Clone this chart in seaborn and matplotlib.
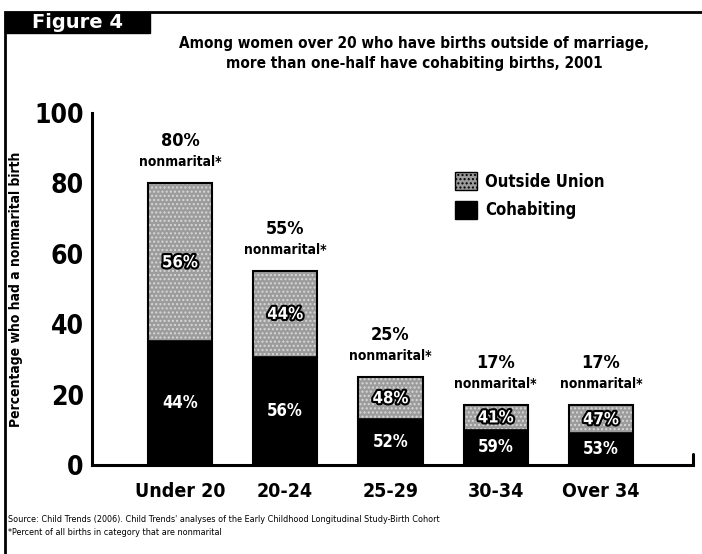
import pandas as pd
import matplotlib.pyplot as plt
import matplotlib.patheffects as pe
from matplotlib.patches import Rectangle, Patch
import seaborn as sns

# data
age_groups = ["Under 20", "20-24", "25-29", "30-34", "Over 34"]
pct_nonmarital = [80, 55, 25, 17, 17]
share_cohabiting = [44, 56, 52, 59, 53]
share_outside = [56, 44, 48, 41, 47]

df = pd.DataFrame({"age": age_groups, "total": pct_nonmarital,
                   "cohab_share": share_cohabiting, "outside_share": share_outside})
df["cohab"] = df["total"] * df["cohab_share"] / 100

sns.set_style("white")
plt.rcParams["font.family"] = ["DejaVu Sans"]
plt.rcParams["font.stretch"] = "condensed"
plt.rcParams["font.weight"] = "bold"
plt.rcParams["axes.labelweight"] = "bold"
plt.rcParams["text.color"] = "black"
plt.rcParams["axes.labelcolor"] = "black"
plt.rcParams["axes.edgecolor"] = "black"
plt.rcParams["xtick.color"] = "black"
plt.rcParams["ytick.color"] = "black"

gray = "#9c9c9c"
fig = plt.figure(figsize=(7.02, 5.54), dpi=100)
ax = fig.add_axes([0.131, 0.1606, 0.856, 0.6354])

# stacked bars: full total in gray, cohabiting part drawn over it in black
sns.barplot(data=df, x="age", y="total", color=gray, width=0.61, saturation=1,
            edgecolor="black", linewidth=1.2, ax=ax)
sns.barplot(data=df, x="age", y="cohab", color="black", width=0.61, saturation=1,
            edgecolor="black", linewidth=1.2, ax=ax)
for p in ax.patches[:len(df)]:
    p.set_hatch("....")
    p.set_edgecolor("#d8d8d8")
    p.set_linewidth(0)
for p in list(ax.patches[:len(df)]):
    ax.add_patch(Rectangle(p.get_xy(), p.get_width(), p.get_height(),
                           fill=False, edgecolor="black", linewidth=1.5))

halo = [pe.withStroke(linewidth=3, foreground="black")]
for i, row in df.iterrows():
    ax.text(i, row["cohab"] / 2, f"{row['cohab_share']}%", color="white",
            ha="center", va="center", fontsize=12)
    ax.text(i, (row["cohab"] + row["total"]) / 2, f"{row['outside_share']}%",
            color="white", ha="center", va="center", fontsize=12, path_effects=halo)
    ax.text(i, row["total"] + 6, "nonmarital*", ha="center", va="center", fontsize=10)
    ax.text(i, row["total"] + 12, f"{row['total']}%", ha="center", va="center", fontsize=13)

ax.set_xlim(-0.836, 4.874)
ax.set_ylim(0, 100)
ax.set_yticks([0, 20, 40, 60, 80, 100])
ax.tick_params(axis="y", direction="in", length=10, width=2.2, labelsize=19, pad=6)
ax.tick_params(axis="x", length=0, labelsize=14, pad=12)
ax.set_xlabel("")
ax.set_ylabel("Percentage who had a nonmarital birth", fontsize=10, labelpad=8)
for s in ["top", "right"]:
    ax.spines[s].set_visible(False)
ax.spines["left"].set_linewidth(2.2)
ax.spines["bottom"].set_linewidth(2.2)
ax.plot([1, 1], [0, 0.03], transform=ax.transAxes, color="black", lw=2.2, clip_on=False)

legend_handles = [Patch(facecolor=gray, edgecolor="black", hatch="....", label="Outside Union"),
                  Patch(facecolor="black", edgecolor="black", label="Cohabiting")]
ax.legend(handles=legend_handles, loc="upper left", bbox_to_anchor=(0.58, 0.875),
          frameon=False, fontsize=12, handlelength=1.3, handleheight=1.3,
          handletextpad=0.5, labelspacing=0.6)

# frame and header
fig.add_artist(Rectangle((0.007, -0.01), 1.0, 0.988, transform=fig.transFigure,
                         fill=False, edgecolor="black", linewidth=2))
fig.add_artist(Rectangle((0.007, 0.94), 0.207, 0.038, transform=fig.transFigure,
                         facecolor="black", edgecolor="black"))
fig.text(0.11, 0.959, "Figure 4", color="white", ha="center", va="center",
         fontsize=14, fontstretch="normal", fontweight="heavy")
fig.text(0.59, 0.903, "Among women over 20 who have births outside of marriage,\n"
         "more than one-half have cohabiting births, 2001",
         ha="center", va="center", fontsize=11, linespacing=1.4)
fig.text(0.012, 0.062, "Source: Child Trends (2006). Child Trends' analyses of the Early Childhood "
         "Longitudinal Study-Birth Cohort", fontsize=6.5, fontweight="normal", va="center")
fig.text(0.012, 0.038, "*Percent of all births in category that are nonmarital",
         fontsize=6.5, fontweight="normal", va="center")

fig.savefig("out.png", dpi=100)
